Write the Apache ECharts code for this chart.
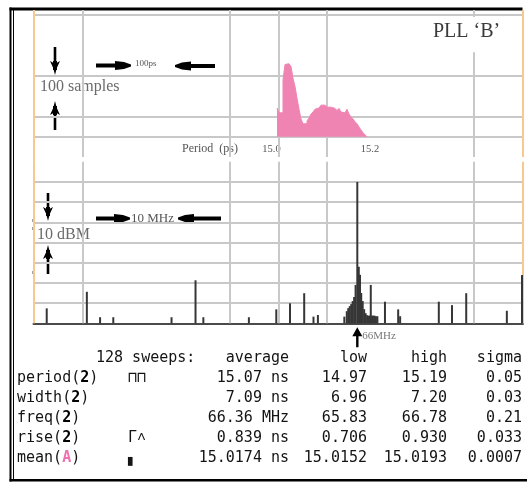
<!DOCTYPE html>
<html>
<head>
<meta charset="utf-8">
<script src="https://cdn.jsdelivr.net/npm/echarts@6/dist/echarts.min.js"></script>
<style>
  html, body { margin: 0; padding: 0; background: #ffffff; }
  #chart { width: 527px; height: 483px; }
</style>
</head>
<body>
<div id="chart"></div>
<script>
// ---- Period histogram of trace A (samples per bin, equal bins from 15.0 to 15.2) ----
const histStart = 15.0;
const histEnd = 15.2;
const histCounts = [71, 59, 59, 140, 178, 180, 180, 173, 144, 124, 95, 68, 44, 32, 32,
  39, 46, 56, 61, 68, 71, 75, 78, 78, 76, 73, 73, 71, 70, 71, 65, 70, 61, 59, 56,
  68, 56, 49, 44, 37, 32, 24, 17, 10, 5];
const histTicks = [15.0, 15.2];

// ---- Spectrum of channel 2: line frequency (MHz) and level above the floor (dB) ----
const specFreq = [2.7, 10.9, 13.6, 16.3, 28.2, 33.1, 34.7, 44.0, 49.6, 52.4, 55.3, 57.2, 58.1,
  63.5, 64.0, 64.3, 64.6, 64.9, 65.2, 65.5, 65.8, 66.15, 66.45, 66.7, 66.95, 67.25, 67.55,
  67.85, 68.15, 68.45, 68.75, 68.9, 69.05, 69.35, 69.65, 69.95, 70.25,
  71.8, 74.5, 74.9, 82.8, 85.5, 88.4, 96.7, 99.8];
const specLevel = [7.4, 15.6, 3, 3, 3, 21.3, 3, 3, 6.9, 9.9, 14.9, 3.3, 4.1,
  3.3, 6, 7.5, 8.5, 9.5, 11, 13, 19, 70, 28, 24, 15, 11, 7,
  5, 4, 3.8, 3.8, 19, 3.8, 3.8, 3.8, 3.5, 3.5,
  10.7, 6.9, 3.5, 10.7, 9, 14.9, 6.2, 23.9];
const peakFreq = 66.15;
const peakLabel = '66MHz';

// ---- Scale annotations ----
const histScaleText = '100 samples';
const histSpanText = '100ps';
const specScaleText = '10 dBM';
const specSpanText = '10 MHz';
const histAxisName = 'Period  (ps)';
const titleText = 'PLL \u2018B\u2019';

// ---- Statistics table ----
const tableHeader = ['128 sweeps:', 'average', 'low', 'high', 'sigma'];
const tableNames = ['period(2)', 'width(2)', 'freq(2)', 'rise(2)', 'mean(A)'];
const tableIcons = ['\u2293\u2293', '', '', '\u0393\u02c4', '\u2596'];
const tableAverage = ['15.07 ns', '7.09 ns', '66.36 MHz', '0.839 ns', '15.0174 ns'];
const tableLow = ['14.97', '6.96', '65.83', '0.706', '15.0152'];
const tableHigh = ['15.19', '7.20', '66.78', '0.930', '15.0193'];
const tableSigma = ['0.05', '0.03', '0.21', '0.033', '0.0007'];

// ---- Screen layout ----
const PLOT_L = 33.5, PLOT_W = 489.5;
const TOP_Y0 = 10, TOP_LINE0 = 15, TOP_DIV = 20.3, PANEL_BREAK = 161.7;
const BOT_Y1 = 323.3;
const gridColor = '#c8c8c8';
const edgeColor = '#f7c98e';
const traceA = '#ef84b2';
const ink = '#141414';

const chart = echarts.init(document.getElementById('chart'), null, { renderer: 'canvas' });

// division coordinates of the upper panel
const topMin = (TOP_Y0 - TOP_LINE0) / TOP_DIV;
const topMax = (PANEL_BREAK - TOP_LINE0) / TOP_DIV;
const topPanelEnd = 7;
const seg = (x1, y1, x2, y2) => ({ coords: [[x1, y1], [x2, y2]] });

const topGridSegs = [];
[1, 4, 5, 6].forEach(d => topGridSegs.push(seg(d, topMin, d, topPanelEnd)));
topGridSegs.push(seg(9, topMin, 9, 0.1));
topGridSegs.push(seg(9, 1.83, 9, topPanelEnd));
[0, 3, 5, 6].forEach(d => topGridSegs.push(seg(0, d, 10, d)));
const topEdgeSegs = [seg(0, topMin, 0, topMax), seg(10, topMin, 10, topPanelEnd)];

const botGridSegs = [];
[10, 40, 50, 60, 90].forEach(f => botGridSegs.push(seg(f, 0, f, 80)));
[10, 20, 30, 40, 50, 60, 70].forEach(l => botGridSegs.push(seg(0, l, 100, l)));
const botEdgeSegs = [seg(0, 0, 0, 80), seg(100, 0, 100, 80)];

// histogram drawn as a stepped area: one point per bin edge
const binW = (histEnd - histStart) / histCounts.length;
const histPoints = histCounts.map((c, i) => [histStart + i * binW, c]);
histPoints.push([histEnd, 0]);

const specData = specFreq.map((f, i) => [f, specLevel[i]]);

const linesBase = {
  type: 'lines', coordinateSystem: 'cartesian2d', polyline: false, silent: true,
  clip: false, animation: false, z: 1
};

// arrow helpers (pixel geometry of the scale markers)
function vArrow(x, tipY, dir) {
  // dir = 1 points down, -1 points up
  const headLen = 14, stemLen = 14, hw = 5;
  const baseY = tipY - dir * headLen;
  const tailY = baseY - dir * stemLen;
  return [
    { type: 'rect', shape: { x: x - 1.3, y: Math.min(baseY, tailY), width: 2.6, height: stemLen + 1 }, style: { fill: '#000' } },
    { type: 'polygon', shape: { points: [[x - hw, baseY], [x - 1.5, baseY + dir * 2], [x + 1.5, baseY + dir * 2], [x + hw, baseY], [x + 1.8, baseY + dir * 7], [x, tipY], [x - 1.8, baseY + dir * 7]] }, style: { fill: '#000' } },
    { type: 'rect', shape: { x: x - 2, y: Math.min(baseY, baseY + dir * 9), width: 4, height: 9 }, style: { fill: '#000' } }
  ];
}
function hArrow(tipX, y, dir, len) {
  // dir = 1 points right, -1 points left
  const headLen = 16, hh = 4.5;
  const baseX = tipX - dir * headLen;
  const tailX = tipX - dir * len;
  return [
    { type: 'rect', shape: { x: Math.min(baseX, tailX), y: y - 2, width: Math.abs(baseX - tailX) + 2, height: 4 }, style: { fill: '#000' } },
    { type: 'polygon', shape: { points: [[baseX, y - hh], [baseX + dir * 9, y - hh + 1], [tipX, y - 1], [tipX, y + 1], [baseX + dir * 9, y + hh - 1], [baseX, y + hh]] }, style: { fill: '#000' } }
  ];
}

const serif = '"Liberation Serif", "DejaVu Serif", serif';
const mono = '"DejaVu Sans Mono", "Liberation Mono", monospace';

const graphics = [];
// instrument frame
graphics.push({ type: 'rect', shape: { x: 9.5, y: 7.5, width: 513, height: 3 }, style: { fill: '#000' } });
graphics.push({ type: 'rect', shape: { x: 9.5, y: 7.5, width: 2, height: 474 }, style: { fill: '#000' } });
graphics.push({ type: 'rect', shape: { x: 13, y: 10, width: 1, height: 469 }, style: { fill: '#000' } });
graphics.push({ type: 'rect', shape: { x: 9.5, y: 479, width: 520, height: 2.5 }, style: { fill: '#000' } });
// small marker dashes on the left screen edge
[219, 227, 271].forEach(y => graphics.push({ type: 'rect', shape: { x: 32.5, y, width: 2, height: 3 }, style: { fill: '#444' } }));

// title
graphics.push({ type: 'text', x: 433, y: 32, style: { text: titleText, font: '20px ' + serif, fill: '#3a3a3a', textVerticalAlign: 'middle' } });

// upper panel scale markers
graphics.push(...vArrow(55, 75, 1));
graphics.push({ type: 'text', x: 40, y: 87, style: { text: histScaleText, font: '16px ' + serif, fill: '#6a6a6a', textVerticalAlign: 'middle' } });
graphics.push(...vArrow(55, 101, -1));
graphics.push(...hArrow(131, 65.5, 1, 35));
graphics.push({ type: 'text', x: 135, y: 63.5, style: { text: histSpanText, font: '9px ' + serif, fill: '#555', textVerticalAlign: 'middle' } });
graphics.push(...hArrow(175, 66, -1, 38));
graphics.push({ type: 'text', x: 182, y: 149, style: { text: histAxisName, font: '12px ' + serif, fill: '#555', textVerticalAlign: 'middle' } });

// lower panel scale markers
graphics.push(...vArrow(48, 221, 1));
graphics.push({ type: 'text', x: 37, y: 234.5, style: { text: specScaleText, font: '16px ' + serif, fill: '#6a6a6a', textVerticalAlign: 'middle' } });
graphics.push(...vArrow(48, 245, -1));
graphics.push(...hArrow(130, 218.5, 1, 34));
graphics.push({ type: 'text', x: 131, y: 218.5, style: { text: specSpanText, font: '13px ' + serif, fill: '#555', textVerticalAlign: 'middle' } });
graphics.push(...hArrow(178, 218.5, -1, 41));

// statistics table
const rowY = [358, 378, 398, 418, 438, 458];
const tableFont = '15px ' + mono;
const richName = {
  b: { fontFamily: mono, fontSize: 15, fontWeight: 'bold', fill: '#000' },
  p: { fontFamily: mono, fontSize: 15, fontWeight: 'bold', fill: '#f06fae' }
};
const colRight = [289, 367, 447, 522];
graphics.push({ type: 'text', x: 96, y: rowY[0], style: { text: tableHeader[0], font: tableFont, fill: ink, textVerticalAlign: 'middle' } });
tableHeader.slice(1).forEach((h, i) => {
  graphics.push({ type: 'text', x: colRight[i], y: rowY[0], style: { text: h, font: tableFont, fill: ink, textAlign: 'right', textVerticalAlign: 'middle' } });
});
tableNames.forEach((name, r) => {
  const y = rowY[r + 1];
  const rich = name.replace('(2)', '({b|2})').replace('(A)', '({p|A})');
  graphics.push({ type: 'text', x: 17, y, style: { text: rich, rich: richName, font: tableFont, fill: ink, textVerticalAlign: 'middle' } });
  if (tableIcons[r]) {
    graphics.push({ type: 'text', x: 128, y, style: { text: tableIcons[r], font: tableFont, fill: ink, textVerticalAlign: 'middle' } });
  }
  [tableAverage[r], tableLow[r], tableHigh[r], tableSigma[r]].forEach((v, c) => {
    graphics.push({ type: 'text', x: colRight[c], y, style: { text: v, font: tableFont, fill: ink, textAlign: 'right', textVerticalAlign: 'middle' } });
  });
});

const hiddenAxis = { show: false };

chart.setOption({
  animation: false,
  backgroundColor: '#ffffff',
  grid: [
    // 0: upper panel divisions
    { left: PLOT_L, top: TOP_Y0, width: PLOT_W, height: PANEL_BREAK - TOP_Y0 },
    // 1: period histogram
    { left: 277, top: TOP_LINE0, width: 90, height: 6 * TOP_DIV },
    // 2: spectrum
    { left: PLOT_L, top: PANEL_BREAK, width: PLOT_W, height: BOT_Y1 - PANEL_BREAK }
  ],
  xAxis: [
    { gridIndex: 0, type: 'value', min: 0, max: 10, ...hiddenAxis },
    {
      gridIndex: 1, type: 'value', min: histStart, max: histEnd, interval: histTicks[1] - histTicks[0],
      axisLine: { show: false }, axisTick: { show: false }, splitLine: { show: false },
      axisLabel: {
        show: true, margin: 7, showMinLabel: true, showMaxLabel: true,
        formatter: v => (v < 15.1 ? '{l|' : '{r|') + v.toFixed(1) + '}',
        rich: {
          l: { fontFamily: serif, fontSize: 10.5, color: '#555', padding: [0, 11, 0, 0] },
          r: { fontFamily: serif, fontSize: 10.5, color: '#555', padding: [0, 0, 0, 6] }
        }
      }
    },
    {
      gridIndex: 2, type: 'value', min: 0, max: 100,
      axisLine: { show: true, onZero: false, lineStyle: { color: '#4a4a4a', width: 2 } },
      axisTick: { show: false }, axisLabel: { show: false }, splitLine: { show: false }
    }
  ],
  yAxis: [
    { gridIndex: 0, type: 'value', min: topMin, max: topMax, inverse: true, ...hiddenAxis },
    { gridIndex: 1, type: 'value', min: 0, max: 300, ...hiddenAxis },
    { gridIndex: 2, type: 'value', min: 0, max: 80, ...hiddenAxis }
  ],
  graphic: graphics,
  series: [
    { ...linesBase, xAxisIndex: 0, yAxisIndex: 0, lineStyle: { color: gridColor, width: 2, opacity: 1 }, data: topGridSegs },
    { ...linesBase, xAxisIndex: 0, yAxisIndex: 0, lineStyle: { color: edgeColor, width: 2, opacity: 1 }, data: topEdgeSegs },
    { ...linesBase, xAxisIndex: 2, yAxisIndex: 2, lineStyle: { color: gridColor, width: 2, opacity: 1 }, data: botGridSegs },
    { ...linesBase, xAxisIndex: 2, yAxisIndex: 2, lineStyle: { color: edgeColor, width: 2, opacity: 1 }, data: botEdgeSegs },
    {
      type: 'line', xAxisIndex: 1, yAxisIndex: 1, step: 'end', symbol: 'none', z: 3,
      lineStyle: { color: traceA, width: 1 }, areaStyle: { color: traceA, opacity: 1 },
      data: histPoints
    },
    {
      type: 'bar', xAxisIndex: 2, yAxisIndex: 2, barWidth: 2, z: 3,
      itemStyle: { color: '#363636' }, data: specData,
      markPoint: {
        silent: true,
        symbol: 'path://M5,0 L10,9 L6.2,9 L6.2,20 L3.8,20 L3.8,9 L0,9 Z',
        symbolSize: [10, 20], symbolOffset: [0, 14], symbolKeepAspect: false,
        itemStyle: { color: '#000' },
        label: {
          show: true, position: 'right', distance: 0, offset: [0, -1],
          formatter: peakLabel, fontFamily: serif, fontSize: 11, color: '#777'
        },
        data: [{ coord: [peakFreq, 0] }]
      }
    }
  ]
});
</script>
</body>
</html>
